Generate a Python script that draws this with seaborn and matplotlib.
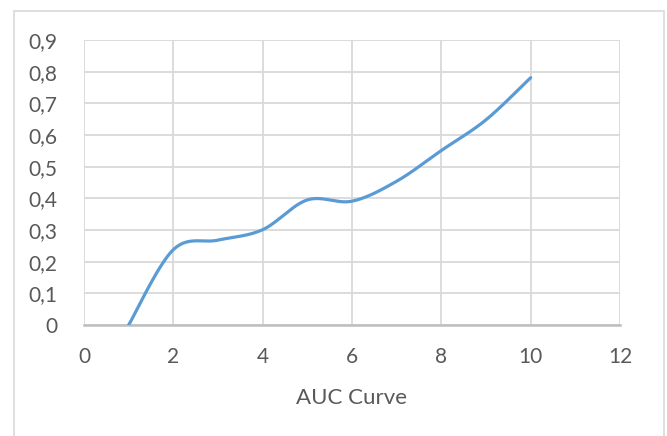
import numpy as np
import pandas as pd
import matplotlib
matplotlib.use("Agg")
import matplotlib.pyplot as plt
import seaborn as sns
from matplotlib.patches import Rectangle
from matplotlib.ticker import FuncFormatter, MultipleLocator

# Data
x_vals = [1, 2, 3, 4, 5, 6, 7, 8, 9, 10]
auc_vals = [0.0, 0.238, 0.268, 0.301, 0.395, 0.391, 0.454, 0.551, 0.648, 0.781]
x_label = "AUC Curve"

# Excel-like smoothing (Catmull-Rom Bezier) derived from the points
def smooth(xs, ys, n=40):
    P = np.column_stack([xs, ys]).astype(float)
    P_ext = np.vstack([P[0], P, P[-1]])
    out = []
    for i in range(1, len(P_ext) - 2):
        p0, p1, p2, p3 = P_ext[i - 1], P_ext[i], P_ext[i + 1], P_ext[i + 2]
        c1 = p1 + (p2 - p0) / 6.0
        c2 = p2 - (p3 - p1) / 6.0
        t = np.linspace(0, 1, n, endpoint=(i == len(P_ext) - 3))[:, None]
        seg = ((1 - t) ** 3) * p1 + 3 * ((1 - t) ** 2) * t * c1 + 3 * (1 - t) * t ** 2 * c2 + t ** 3 * p2
        out.append(seg)
    return np.vstack(out)

curve = smooth(x_vals, auc_vals)
df = pd.DataFrame({"x": curve[:, 0], "y": curve[:, 1]})

sns.set_theme(style="white")
plt.rcParams["font.family"] = ["Lato", "DejaVu Sans"]

fig = plt.figure(figsize=(6.67, 4.36), dpi=100)
ax = fig.add_axes([84 / 667, 1 - 325 / 436, (620 - 84) / 667, (325 - 40) / 436])

sns.lineplot(data=df, x="x", y="y", ax=ax, color="#5B9BD5", linewidth=2.3, sort=False,
             solid_capstyle="round")

ax.set_xlim(0, 12)
ax.set_ylim(0, 0.9)
ax.xaxis.set_major_locator(MultipleLocator(2))
ax.yaxis.set_major_locator(MultipleLocator(0.1))
ax.yaxis.set_major_formatter(FuncFormatter(lambda v, p: "0" if abs(v) < 1e-9 else f"{v:.1f}".replace(".", ",")))
ax.xaxis.set_major_formatter(FuncFormatter(lambda v, p: f"{int(round(v))}"))

ax.grid(True, color="#d9d9d9", linewidth=1.3)
ax.set_axisbelow(True)
for s in ["top", "right", "left"]:
    ax.spines[s].set_visible(False)
ax.spines["bottom"].set_color("#bfbfbf")
ax.spines["bottom"].set_linewidth(1.8)
ax.spines["bottom"].set_zorder(1)

ax.tick_params(axis="both", length=0, labelsize=15, colors="#595959")
ax.tick_params(axis="x", pad=16)
ax.tick_params(axis="y", pad=19)
ax.set_xlabel(x_label, fontsize=16, color="#595959", labelpad=15)
ax.set_ylabel("")

fig.patches.append(Rectangle((14 / 667, -0.05), (664 - 14) / 667, 1 - 11 / 436 + 0.05,
                             transform=fig.transFigure, fill=False,
                             edgecolor="#d9d9d9", linewidth=1.2))

fig.savefig("out.png", dpi=100, facecolor="white")
